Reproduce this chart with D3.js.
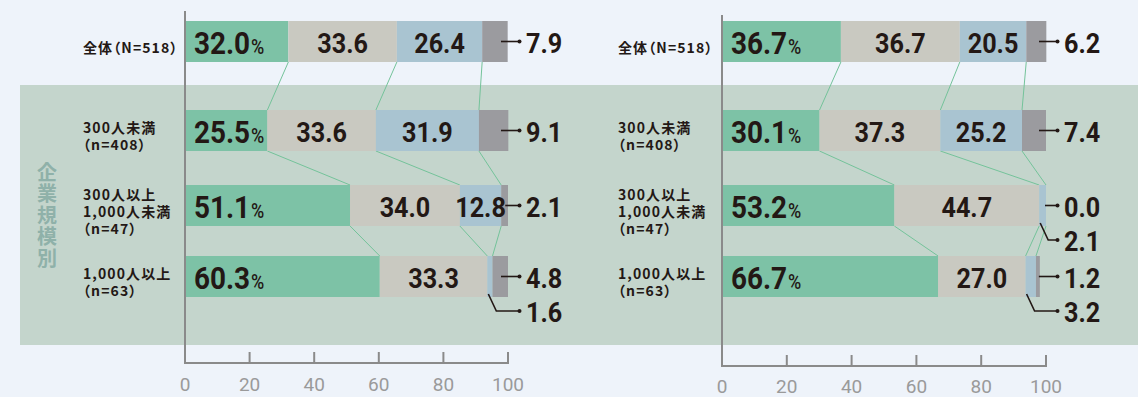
<!DOCTYPE html>
<html><head><meta charset="utf-8">
<script src="https://cdn.jsdelivr.net/npm/d3@7"></script>
<style>
body{margin:0;background:#eef3fa;}
svg{display:block;}
.cat{font-family:"Noto Sans CJK JP";font-weight:700;font-size:14px;letter-spacing:1.1px;fill:#231815;font-feature-settings:"palt";}
.num{font-family:Roboto;font-weight:700;fill:#231815;}
.tk{font-family:Roboto;font-size:19px;fill:#9a9a9a;}
.grp{font-family:"Noto Sans CJK JP";font-weight:700;font-size:20px;letter-spacing:1.5px;fill:#8fb1a9;writing-mode:vertical-rl;}
</style></head><body><svg id="c" width="1138" height="397"></svg>
<script>
// ---- data ----
const categories = ["全体（N=518）", "300人未満（n=408）", "300人以上1,000人未満（n=47）", "1,000人以上（n=63）"];
const categoryLines = [["全体（N=518）"], ["300人未満", "（n=408）"], ["300人以上", "1,000人未満", "（n=47）"], ["1,000人以上", "（n=63）"]];
const seriesKeys = ["s1", "s2", "s3", "s4"];
const leftValues = [[32.0, 33.6, 26.4, 7.9], [25.5, 33.6, 31.9, 9.1], [51.1, 34.0, 12.8, 2.1], [60.3, 33.3, 1.6, 4.8]];
const rightValues = [[36.7, 36.7, 20.5, 6.2], [30.1, 37.3, 25.2, 7.4], [53.2, 44.7, 2.1, 0.0], [66.7, 27.0, 3.2, 1.2]];
const tickValues = [0, 20, 40, 60, 80, 100];
const groupLabel = "企業規模別";

// ---- style ----
const colors = ["#7dc2a6", "#c9c9c1", "#a9c4d1", "#9b9b9f"];
const ink = "#231815";
const svg = d3.select("#c");

svg.append("rect").attr("x", 20).attr("y", 85).attr("width", 1118).attr("height", 260).attr("fill", "#c4d5cc");
svg.append("text").attr("class", "grp").attr("x", 47).attr("y", 162).text(groupLabel);

const yTop = d3.scaleOrdinal().domain(categories).range([21, 110, 185, 256]);
const barH = 41;

function numText(g, x, y, str, size, anchor, pct) {
  const t = g.append("text").attr("class", "num")
    .attr("transform", `translate(${x},${y}) scale(0.9,1)`)
    .attr("text-anchor", anchor).style("font-size", size + "px").text(str);
  if (pct) t.append("tspan").style("font-size", "20px").style("font-weight", 500).attr("dx", 1).text("%");
}

function drawPanel(values, o) {
  const x = d3.scaleLinear().domain([0, 100]).range(o.range);
  const table = values.map((v, i) => { const r = { cat: categories[i] }; seriesKeys.forEach((k, j) => r[k] = v[j]); return r; });
  const stacked = d3.stack().keys(seriesKeys)(table);
  const g = svg.append("g");

  // connectors
  const cg = g.append("g");
  for (let s = 0; s < 3; s++) {
    for (let i = 0; i < categories.length - 1; i++) {
      cg.append("line")
        .attr("x1", x(stacked[s][i][1])).attr("y1", yTop(categories[i]) + barH)
        .attr("x2", x(stacked[s][i + 1][1])).attr("y2", yTop(categories[i + 1]))
        .attr("stroke", "#74c39a").attr("stroke-width", 1);
    }
  }
  // bars
  stacked.forEach((ser, s) => {
    g.append("g").selectAll("rect").data(ser).join("rect")
      .attr("x", d => x(d[0])).attr("width", d => Math.max(0, x(d[1]) - x(d[0])))
      .attr("y", d => yTop(d.data.cat)).attr("height", barH).attr("fill", colors[s]);
  });
  // labels
  const lg = g.append("g");
  const xEnd = x(100);
  stacked.forEach((ser, s) => {
    ser.forEach((d, i) => {
      const v = d.data[seriesKeys[s]];
      const T = yTop(d.data.cat);
      const str = v.toFixed(1);
      const x0 = x(d[0]), x1 = x(d[1]);
      if (s === 0) {
        numText(lg, x0 + 9, T + 32.5, str, 31, "start", true);
      } else if (s === 3) {
        const sx = Math.min(x1 - 1, Math.max(x0 + 4, xEnd - 7));
        const ly = T + barH / 2;
        lg.append("line").attr("x1", sx).attr("x2", xEnd + 11.5).attr("y1", ly).attr("y2", ly)
          .attr("stroke", ink).attr("stroke-width", 1.6);
        lg.append("circle").attr("cx", xEnd + 11.5).attr("cy", ly).attr("r", 2).attr("fill", ink);
        numText(lg, xEnd + 18, T + 32, str, 28, "start", false);
      } else if (v < 5) {
        const ly = T + 55;
        lg.append("path").attr("d", `M${x0 + 1},${T + barH - 3}L${x0 + 9},${ly}H${xEnd + 11.5}`)
          .attr("fill", "none").attr("stroke", ink).attr("stroke-width", 1.6);
        lg.append("circle").attr("cx", xEnd + 11.5).attr("cy", ly).attr("r", 2).attr("fill", ink);
        numText(lg, xEnd + 18, T + 66, str, 28, "start", false);
      } else {
        numText(lg, (x0 + x1) / 2, T + 32, str, 28, "middle", false);
      }
    });
  });
  // category labels (one text per category, one tspan per line)
  categories.forEach((c, i) => {
    const lines = categoryLines[i];
    const mid = yTop(c) + 25.5;
    const t = g.append("text").attr("class", "cat").attr("dominant-baseline", "central");
    lines.forEach((ln, k) => {
      t.append("tspan").attr("x", o.labelX)
        .attr("y", mid + (k - (lines.length - 1) / 2) * 17).text(ln);
    });
  });
  // axes
  const ag = g.append("g");
  ag.append("line").attr("x1", x(0)).attr("x2", x(0)).attr("y1", o.axisTop).attr("y2", o.axisBottom)
    .attr("stroke", "#8a8a8a").attr("stroke-width", 2);
  ag.append("line").attr("x1", x(0) - 1).attr("x2", x(100) + 1).attr("y1", o.axisBottom).attr("y2", o.axisBottom)
    .attr("stroke", "#8a8a8a").attr("stroke-width", 2);
  ag.selectAll(".tl").data(tickValues.filter(t => t > 0)).join("line")
    .attr("x1", d => x(d)).attr("x2", d => x(d)).attr("y1", o.axisBottom - 11).attr("y2", o.axisBottom)
    .attr("stroke", "#8a8a8a").attr("stroke-width", 2);
  ag.selectAll(".tt").data(tickValues).join("text").attr("class", "tk")
    .attr("x", d => x(d)).attr("y", o.tickBase).attr("text-anchor", "middle").text(d => d);
}

drawPanel(leftValues, { range: [185, 508], labelX: 83, axisTop: 11, axisBottom: 363, tickBase: 391 });
drawPanel(rightValues, { range: [722, 1046], labelX: 618, axisTop: 15, axisBottom: 366, tickBase: 393 });
</script></body></html>
